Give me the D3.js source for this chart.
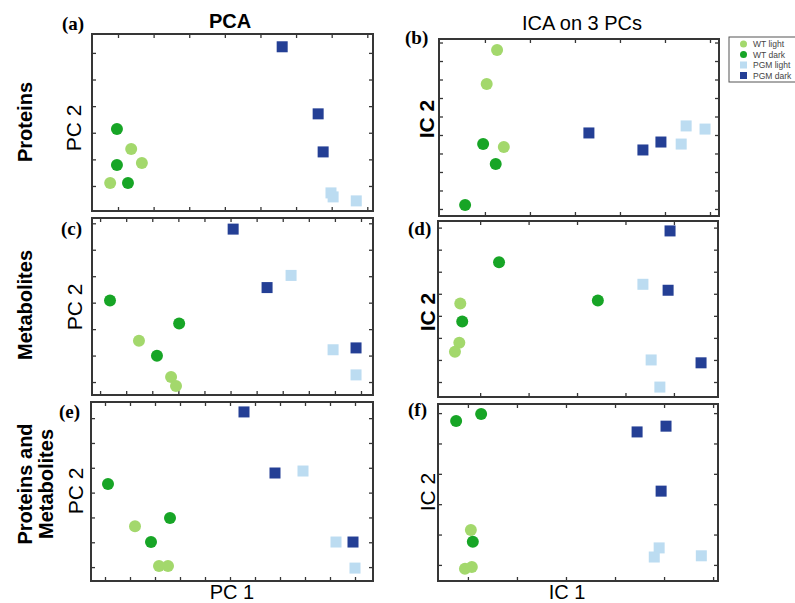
<!DOCTYPE html>
<html>
<head>
<meta charset="utf-8">
<script src="https://cdn.jsdelivr.net/npm/d3@7"></script>
<style>
  body { margin: 0; background: #fff; }
  svg { display: block; font-family: "Liberation Sans", Arial, sans-serif; }
</style>
</head>
<body>
<svg id="chart" width="795" height="603"></svg>
<script>
// scores, in units of the (unlabelled) tick spacing of each panel
const wtLight = {
  a: [[-0.22, 0.11], [0.37, 1.39], [0.67, 0.86]],
  b: [[0.27, 8.59], [0.04, 6.76], [0.42, 3.35]],
  c: [[1.49, 1.56], [2.72, 0.19], [2.91, -0.15]],
  d: [[-0.41, 3.56], [-0.43, 1.78], [-0.52, 1.37]],
  e: [[1.2, 1.65], [2.16, 0.04], [2.52, 0.04]],
  f: [[0.06, 1.15], [-0.06, -0.13], [0.08, -0.07]]
};
const wtDark = {
  a: [[-0.03, 2.14], [-0.03, 0.79], [0.28, 0.11]],
  b: [[-0.04, 3.51], [0.24, 2.43], [-0.44, 0.22]],
  c: [[0.38, 3.08], [3.03, 2.21], [2.18, 0.99]],
  d: [[0.39, 5.43], [2.43, 3.7], [-0.37, 2.74]],
  e: [[0.12, 3.35], [2.6, 1.98], [1.84, 1.01]],
  f: [[-0.24, 4.74], [0.27, 4.97], [0.1, 0.76]]
};
const pgmLight = {
  a: [[5.98, -0.26], [6.04, -0.41], [6.69, -0.56]],
  b: [[4.47, 4.49], [4.89, 4.32], [4.36, 3.51]],
  c: [[7.32, 4.03], [8.93, 1.22], [9.81, 0.27]],
  d: [[3.36, 4.43], [3.53, 1.0], [3.71, -0.23]],
  e: [[7.92, 3.87], [9.24, 1.01], [10.0, -0.04]],
  f: [[3.9, 0.56], [3.8, 0.26], [4.76, 0.3]]
};
const pgmDark = {
  a: [[4.61, 5.23], [5.62, 2.71], [5.76, 1.28]],
  b: [[2.31, 4.11], [3.51, 3.19], [3.91, 3.62]],
  c: [[5.1, 5.78], [6.4, 3.57], [9.81, 1.29]],
  d: [[3.92, 6.85], [3.88, 4.16], [4.56, 0.87]],
  e: [[5.56, 6.25], [6.8, 3.79], [9.92, 1.01]],
  f: [[3.45, 4.38], [4.04, 4.57], [3.94, 2.43]]
};

const panelKeys = ["a", "b", "c", "d", "e", "f"];
const xDomains = { a: [-0.73, 7.16], b: [-1.02, 5.2], c: [-0.31, 10.46], d: [-0.87, 4.91], e: [-0.56, 10.72], f: [-0.61, 5.1] };
const yDomains = { a: [-0.94, 5.71], b: [-0.38, 9.19], c: [-0.49, 6.2], d: [-0.68, 7.3], e: [-0.56, 6.65], f: [-0.53, 5.3] };
const xTickCounts = { a: 8, b: 6, c: 11, d: 5, e: 11, f: 6 };
const yTickCounts = { a: 6, b: 10, c: 7, d: 8, e: 7, f: 6 };

const groups = ["WT light", "WT dark", "PGM light", "PGM dark"];
const groupData = [wtLight, wtDark, pgmLight, pgmDark];
const colTitles = ["PCA", "ICA on 3 PCs"];
const rowTitles = [["Proteins"], ["Metabolites"], ["Proteins and", "Metabolites"]];

const colors = ["#a3d86c", "#17a526", "#bcdcf1", "#243f95"];
const isSquare = [false, false, true, true];

// frame of each panel in px
const boxes = {
  a: { l: 92, t: 34, r: 373, b: 211 },
  b: { l: 439, t: 39, r: 719, b: 216 },
  c: { l: 92, t: 218, r: 373, b: 395 },
  d: { l: 438, t: 221, r: 718, b: 397 },
  e: { l: 91, t: 402, r: 373, b: 581 },
  f: { l: 438, t: 404, r: 718, b: 581 }
};

const svg = d3.select("#chart");
const frameColor = "#363636";

panelKeys.forEach(k => {
  const bx = boxes[k];
  const w = bx.r - bx.l, h = bx.b - bx.t;
  const g = svg.append("g").attr("transform", `translate(${bx.l},${bx.t})`);
  const x = d3.scaleLinear().domain(xDomains[k]).range([0, w]);
  const y = d3.scaleLinear().domain(yDomains[k]).range([h, 0]);
  const xt = d3.range(xTickCounts[k]);
  const yt = d3.range(yTickCounts[k]);

  // inward ticks on all four sides
  const axes = [
    [d3.axisBottom(x).tickValues(xt), `translate(0,${h})`],
    [d3.axisTop(x).tickValues(xt), null],
    [d3.axisLeft(y).tickValues(yt), null],
    [d3.axisRight(y).tickValues(yt), `translate(${w},0)`]
  ];
  axes.forEach(([ax, tr]) => {
    const a = g.append("g").call(ax.tickSize(-4).tickFormat(""));
    if (tr) a.attr("transform", tr);
    a.select(".domain").remove();
    a.selectAll("line").attr("stroke", frameColor).attr("stroke-width", 1.3);
  });

  g.append("rect")
    .attr("width", w).attr("height", h)
    .attr("fill", "none")
    .attr("stroke", frameColor)
    .attr("stroke-width", 2);

  groupData.forEach((gd, i) => {
    const pts = gd[k];
    if (isSquare[i]) {
      g.selectAll(null).data(pts).enter().append("rect")
        .attr("x", d => x(d[0]) - 5.5)
        .attr("y", d => y(d[1]) - 5.5)
        .attr("width", 11).attr("height", 11)
        .attr("fill", colors[i]);
    } else {
      g.selectAll(null).data(pts).enter().append("circle")
        .attr("cx", d => x(d[0]))
        .attr("cy", d => y(d[1]))
        .attr("r", 6)
        .attr("fill", colors[i]);
    }
  });

  // panel letter
  const lx = { a: 62, b: 405, c: 61, d: 408, e: 59, f: 408 }[k];
  const ly = { a: 30, b: 44, c: 235, d: 235, e: 418, f: 416 }[k];
  svg.append("text")
    .attr("x", lx).attr("y", ly)
    .style("font-family", "'Liberation Serif', 'Times New Roman', serif")
    .style("font-weight", "bold")
    .style("font-size", "19px")
    .text(`(${k})`);
});

// column titles
svg.append("text").attr("x", 230).attr("y", 28).attr("text-anchor", "middle")
  .style("font-size", "20px").style("font-weight", "bold").text(colTitles[0]);
svg.append("text").attr("x", 582).attr("y", 30).attr("text-anchor", "middle")
  .style("font-size", "20px").text(colTitles[1]);

// x-axis titles
svg.append("text").attr("x", 232).attr("y", 599).attr("text-anchor", "middle")
  .style("font-size", "20px").text("PC 1");
svg.append("text").attr("x", 567).attr("y", 599).attr("text-anchor", "middle")
  .style("font-size", "20px").text("IC 1");

// y-axis titles
const yTitles = [
  { t: "PC 2", x: 81, y: 128, bold: false },
  { t: "IC 2", x: 434, y: 119, bold: true },
  { t: "PC 2", x: 82, y: 307, bold: false },
  { t: "IC 2", x: 435, y: 312, bold: true },
  { t: "PC 2", x: 83, y: 491, bold: false },
  { t: "IC 2", x: 435, y: 492, bold: false }
];
yTitles.forEach(d => {
  svg.append("text")
    .attr("transform", `translate(${d.x},${d.y}) rotate(-90)`)
    .attr("text-anchor", "middle")
    .style("font-size", "21px")
    .style("font-weight", d.bold ? "bold" : "normal")
    .text(d.t);
});

// row titles
const rowCenters = [122, 305, 484];
rowTitles.forEach((lines, i) => {
  lines.forEach((line, j) => {
    svg.append("text")
      .attr("transform", `translate(${32 + j * 21},${rowCenters[i]}) rotate(-90)`)
      .attr("text-anchor", "middle")
      .style("font-size", "20px")
      .style("font-weight", "bold")
      .text(line);
  });
});

// legend
const leg = svg.append("g").attr("transform", "translate(729,37)");
leg.append("rect").attr("width", 70).attr("height", 45)
  .attr("fill", "#fff").attr("stroke", "#555").attr("stroke-width", 1);
groups.forEach((name, i) => {
  const cy = 7 + i * 10.5;
  if (isSquare[i]) {
    leg.append("rect").attr("x", 11).attr("y", cy - 3.5).attr("width", 7).attr("height", 7).attr("fill", colors[i]);
  } else {
    leg.append("circle").attr("cx", 14.5).attr("cy", cy).attr("r", 3.5).attr("fill", colors[i]);
  }
  leg.append("text").attr("x", 24).attr("y", cy + 3)
    .style("font-size", "8.5px").attr("fill", "#444").text(name);
});
</script>
</body>
</html>
